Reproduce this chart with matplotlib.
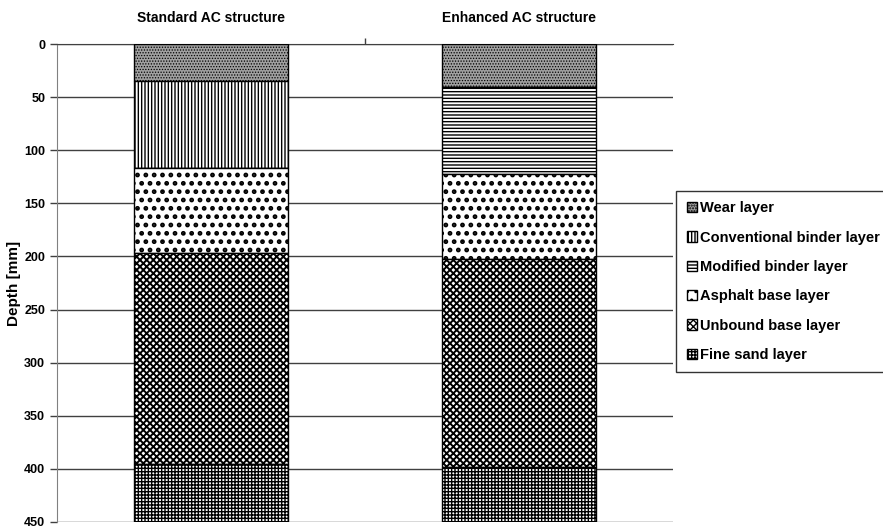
import numpy as np
import matplotlib as mpl
import matplotlib.pyplot as plt

plt.rcParams['font.family'] = ['Liberation Sans', 'DejaVu Sans']
plt.rcParams['font.weight'] = 'bold'
plt.rcParams['hatch.linewidth'] = 1.0

# structures (x categories)
structures = ['Standard AC structure', 'Enhanced AC structure']

# layer names, top to bottom
layers = ['Wear layer', 'Conventional binder layer', 'Modified binder layer',
          'Asphalt base layer', 'Unbound base layer', 'Fine sand layer']

# layer thickness [mm] per structure
standard_mm = [35, 82, 0, 80, 198, 55]
enhanced_mm = [40, 0, 82, 80, 196, 52]

# look of each layer
face_colors = ['#a0a0a0', 'white', 'white', 'white', 'white', 'white']
hatches = ['......', '|||||', '-----', '..', 'xxxxx', '+++++']
hatch_lw = [0.6, 1.0, 1.0, 2.2, 1.4, 1.0]

y_ticks = [0, 50, 100, 150, 200, 250, 300, 350, 400, 450]

fig = plt.figure(figsize=(8.83, 5.31), dpi=100)
ax = fig.add_axes([0.0645, 0.017, 0.698, 0.9])

x = np.arange(len(structures))
thick = np.array([standard_mm, enhanced_mm])   # shape (2, 6)
bottoms = np.zeros(len(structures))
handles = []
for i, name in enumerate(layers):
    with mpl.rc_context({'hatch.linewidth': hatch_lw[i]}):
        h = ax.bar(x, thick[:, i], width=0.5, bottom=bottoms, color=face_colors[i],
                   hatch=hatches[i], edgecolor='black', linewidth=1.0, label=name,
                   zorder=3)
    handles.append(h)
    bottoms = bottoms + thick[:, i]

ax.set_xlim(-0.5, 1.5)
ax.set_ylim(450, 0)
ax.set_yticks(y_ticks)
ax.set_yticklabels([str(v) for v in y_ticks], fontsize=9, fontweight='bold')
ax.yaxis.grid(True, color='#404040', linewidth=1.0, zorder=0)
ax.set_axisbelow(True)
ax.set_ylabel('Depth [mm]', fontsize=11, fontweight='bold', labelpad=2)

# category labels at the top, divider tick between them
ax.xaxis.tick_top()
ax.set_xticks(x)
ax.set_xticklabels(structures, fontsize=10, fontweight='bold')
ax.tick_params(axis='x', length=0, pad=14)
ax.set_xticks([0.5], minor=True)
ax.tick_params(axis='x', which='minor', top=True, length=4, width=1, color='#404040')
ax.tick_params(axis='y', length=5, width=1, color='#404040')

for side in ['right', 'bottom']:
    ax.spines[side].set_visible(False)
ax.spines['left'].set_color('#808080')
ax.spines['top'].set_color('#404040')

fig.legend(handles=handles, loc='upper left', bbox_to_anchor=(0.766, 0.64),
           fontsize=10.5, frameon=True, fancybox=False, edgecolor='black',
           handlelength=0.7, handleheight=0.7, handletextpad=0.25,
           labelspacing=1.05, borderpad=0.7, borderaxespad=0)

fig.savefig('out.png', dpi=100)
